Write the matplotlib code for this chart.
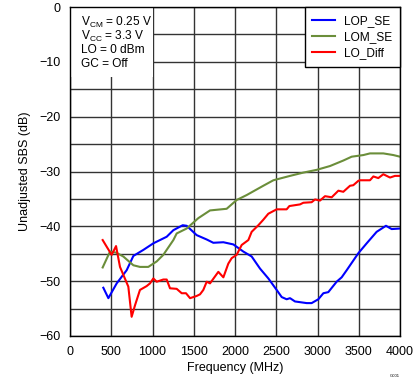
import matplotlib
matplotlib.use("Agg")
import matplotlib.pyplot as plt
from matplotlib.patches import Rectangle

plt.rcParams['font.family'] = ['Liberation Sans', 'DejaVu Sans']
plt.rcParams['mathtext.fontset'] = 'custom'
plt.rcParams['mathtext.rm'] = 'Liberation Sans'

# LOP_SE (blue)
lop_f = [404, 465, 566, 687, 768, 889, 1010, 1172, 1253, 1366, 1414, 1535, 1657,
         1737, 1859, 1980, 2101, 2202, 2303, 2404, 2505, 2566, 2626, 2667, 2727,
         2869, 2929, 3010, 3071, 3131, 3232, 3293, 3354, 3495, 3596, 3717, 3830,
         3899, 4000]
lop_db = [-51.2, -53.1, -50.4, -48.0, -45.4, -44.3, -43.1, -41.9, -40.7, -39.8, -39.9, -41.6, -42.4,
          -43.0, -42.9, -43.3, -44.6, -45.5, -47.7, -49.5, -51.6, -52.9, -53.3, -53.1, -53.7,
          -54.0, -54.0, -53.3, -52.2, -52.0, -50.1, -49.3, -48.0, -44.9, -43.1, -41.0, -39.9,
          -40.5, -40.4]

# LOM_SE (green)
lom_f = [396, 485, 560, 646, 768, 848, 949, 1051, 1131, 1253, 1293, 1414, 1556,
         1697, 1899, 2020, 2141, 2343, 2465, 2667, 2828, 2990, 3152, 3313, 3414,
         3556, 3636, 3798, 3919, 4000]
lom_db = [-47.5, -44.6, -44.8, -45.5, -47.1, -47.4, -47.4, -46.4, -45.2, -42.5, -41.3, -40.4, -38.5,
          -37.1, -36.8, -35.2, -34.3, -32.6, -31.6, -30.8, -30.2, -29.7, -29.0, -28.0, -27.3,
          -27.0, -26.7, -26.7, -27.0, -27.3]

# LO_Diff (red)
diff_f = [396, 444, 505, 558, 606, 707, 747, 788, 848, 929, 970, 1010, 1051, 1131,
          1172, 1212, 1293, 1354, 1406, 1455, 1535, 1576, 1616, 1657, 1697, 1798,
          1859, 1919, 1960, 2020, 2081, 2162, 2202, 2283, 2343, 2404, 2505, 2626,
          2659, 2788, 2828, 2929, 2970, 3030, 3091, 3172, 3253, 3313, 3394, 3434,
          3495, 3515, 3636, 3677, 3737, 3798, 3879, 3939, 4000]
diff_db = [-42.5, -43.7, -45.2, -43.6, -47.4, -51.0, -56.5, -54.4, -51.6, -50.9, -50.4, -49.5, -50.1, -49.7,
           -49.7, -51.3, -51.4, -52.2, -52.2, -53.1, -52.7, -52.4, -51.6, -50.1, -50.4, -48.3,
           -49.3, -46.8, -45.8, -45.2, -43.4, -42.5, -41.0, -39.8, -38.8, -37.7, -36.9, -36.9,
           -36.3, -36.0, -35.7, -35.6, -35.1, -35.3, -34.5, -34.7, -33.5, -33.7, -32.6, -32.5,
           -31.7, -31.6, -31.6, -30.9, -31.2, -30.5, -31.1, -30.8, -30.8]

conditions = [r'V$_{\mathregular{CM}}$ = 0.25 V', r'V$_{\mathregular{CC}}$ = 3.3 V',
              'LO = 0 dBm', 'GC = Off']

fig = plt.figure(figsize=(4.19, 3.82), dpi=100)
ax = fig.add_axes([70 / 419, 46 / 382, 330 / 419, 329 / 382])

ax.plot(lop_f, lop_db, color='#0000ff', lw=1.5, label='LOP_SE', zorder=3)
ax.plot(lom_f, lom_db, color='#6b8e3a', lw=1.5, label='LOM_SE', zorder=3)
ax.plot(diff_f, diff_db, color='#ff0000', lw=1.5, label='LO_Diff', zorder=3)

ax.set_xlim(0, 4000)
ax.set_ylim(-60, 0)
ax.set_xticks(range(0, 4001, 500))
ax.set_yticks(range(-60, 1, 10))
ax.set_yticks(range(-55, 0, 10), minor=True)
ax.grid(True, which='both', color='#333333', lw=1)
ax.set_axisbelow(True)
ax.tick_params(which='both', length=0, labelsize=9, pad=7, colors='black')
for s in ax.spines.values():
    s.set_color('black')
    s.set_linewidth(1)
    s.set_zorder(5)

ax.set_xlabel('Frequency (MHz)', fontsize=9, labelpad=3)
ax.set_ylabel('Unadjusted SBS (dB)', fontsize=9, labelpad=6)

# white area behind the conditions text
ax.add_patch(Rectangle((0, 1 - 70 / 329), 83 / 330, 70 / 329, transform=ax.transAxes,
                       facecolor='white', edgecolor='none', zorder=2))
for i, t in enumerate(conditions):
    ax.text(11 / 330, 1 - (15.5 + 13.7 * i) / 329, t, transform=ax.transAxes,
            fontsize=8.6, va='center', ha='left', zorder=4)

leg = ax.legend(loc='upper right', fontsize=8.6, frameon=True, fancybox=False,
                borderaxespad=0, handlelength=1.9, handletextpad=0.75,
                labelspacing=0.35, borderpad=0.65)
leg.get_frame().set_edgecolor('black')
leg.get_frame().set_linewidth(1)
leg.get_frame().set_alpha(1)

fig.text(395 / 419, 1 - 376 / 382, 'G001', fontsize=3, ha='center', va='center')

fig.savefig('out.png', dpi=100)
